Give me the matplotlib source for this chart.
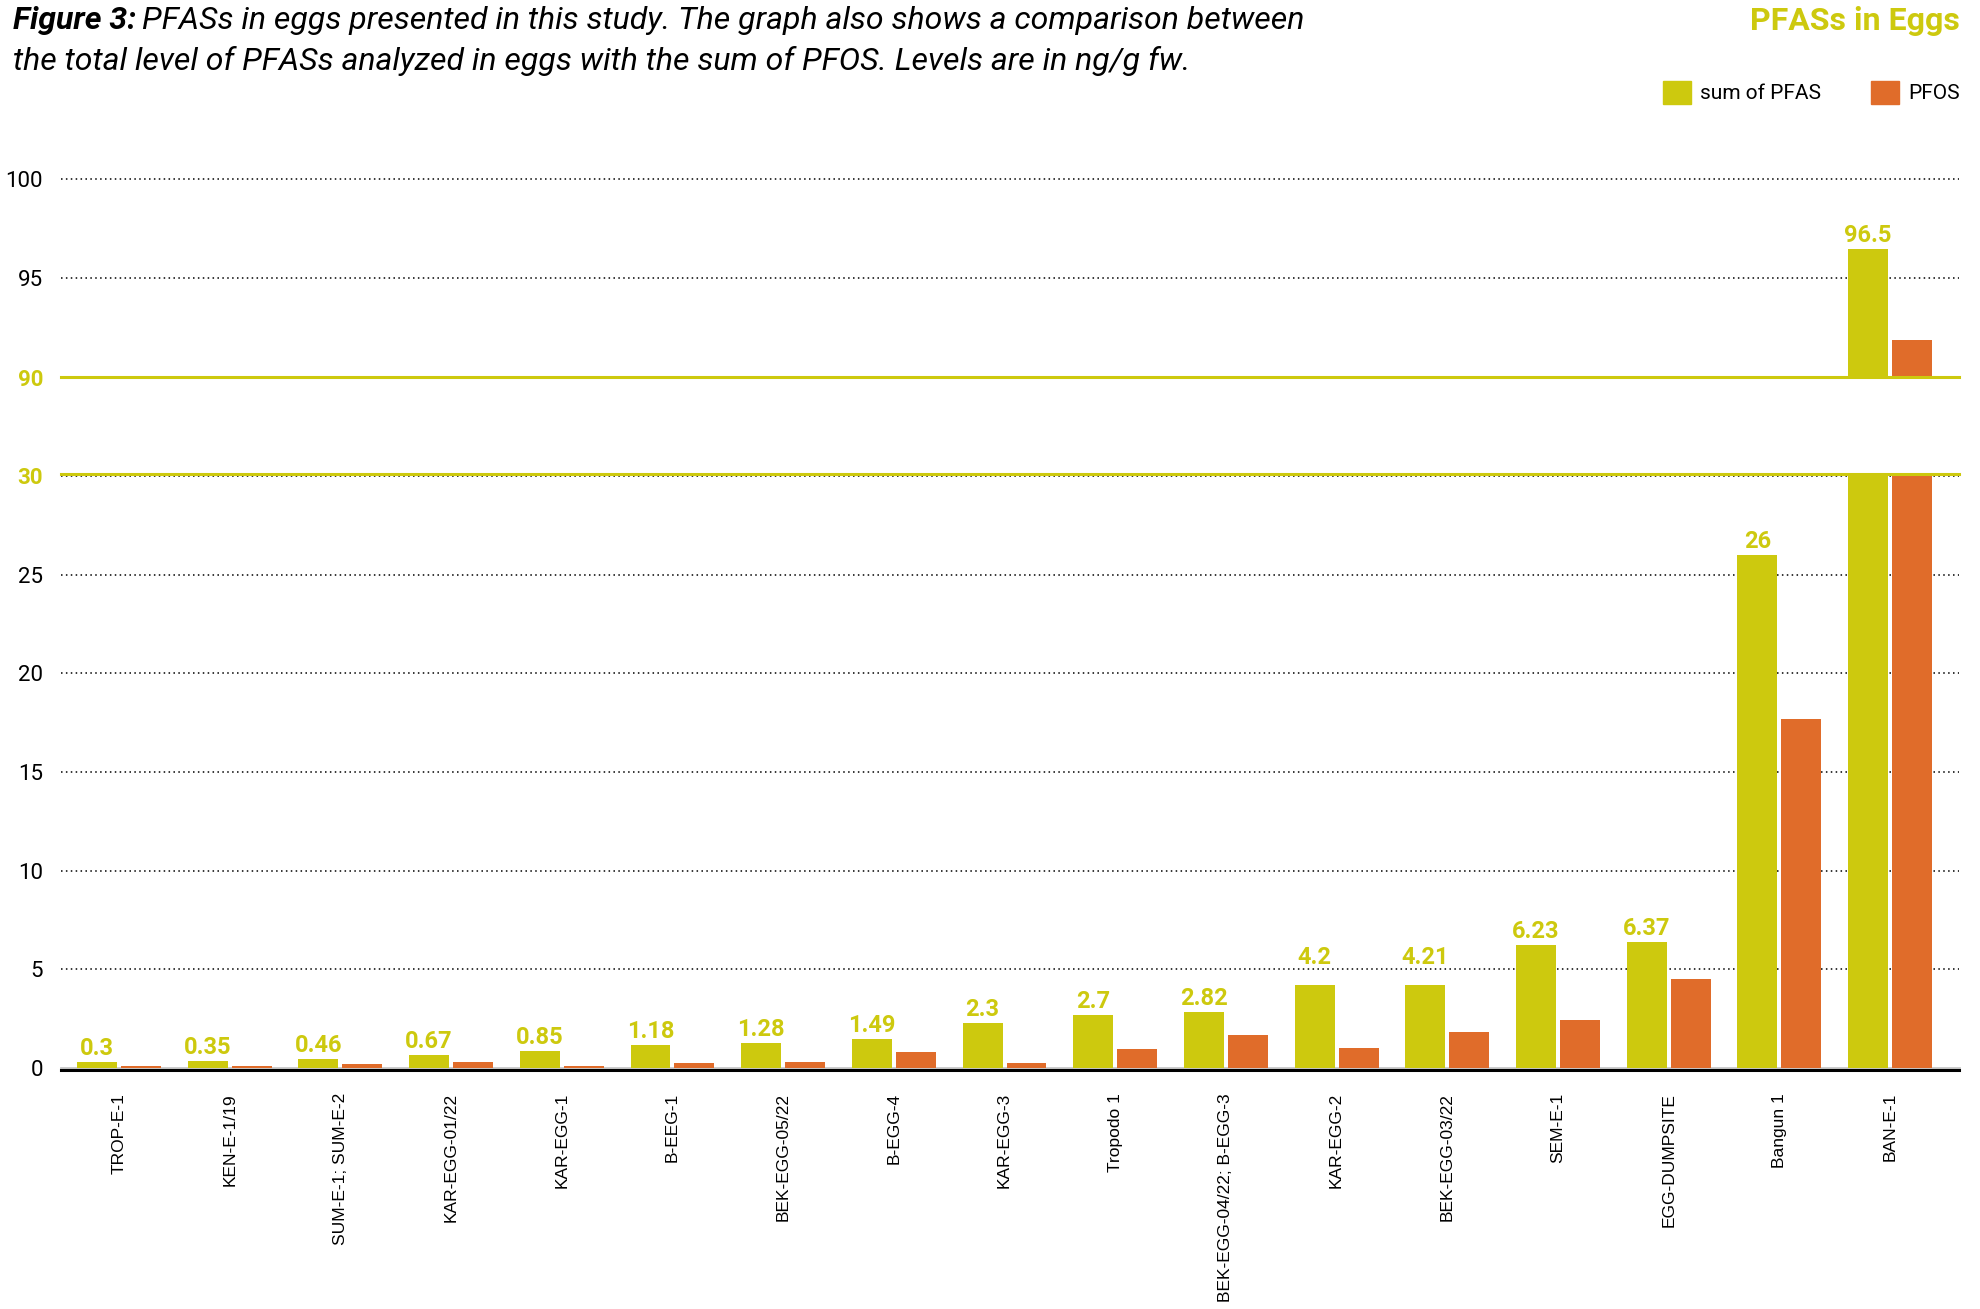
import matplotlib
matplotlib.use('Agg')
import matplotlib.pyplot as plt
import numpy as np
from matplotlib.patches import Patch

categories = ["TROP-E-1", "KEN-E-1/19", "SUM-E-1; SUM-E-2", "KAR-EGG-01/22", "KAR-EGG-1",
              "B-EEG-1", "BEK-EGG-05/22", "B-EGG-4", "KAR-EGG-3", "Tropodo 1",
              "BEK-EGG-04/22; B-EGG-3", "KAR-EGG-2", "BEK-EGG-03/22", "SEM-E-1",
              "EGG-DUMPSITE", "Bangun 1", "BAN-E-1"]
sum_pfas = [0.3, 0.35, 0.46, 0.67, 0.85, 1.18, 1.28, 1.49, 2.3, 2.7, 2.82, 4.2, 4.21,
            6.23, 6.37, 26, 96.5]
pfos = [0.12, 0.12, 0.18, 0.29, 0.12, 0.24, 0.29, 0.8, 0.24, 0.96, 1.68, 1.01, 1.83,
        2.45, 4.5, 17.7, 91.9]
low_ticks = [0, 5, 10, 15, 20, 25, 30]
high_ticks = [90, 95, 100]
series_names = ["sum of PFAS", "PFOS"]

GREEN = '#CDC90E'
ORANGE = '#E06C2A'

fig = plt.figure(figsize=(19.81, 13.09), dpi=100)
L, R = 0.0308, 0.9889
ax_lo = fig.add_axes([L, 0.1841, R - L, 0.4523])
ax_hi = fig.add_axes([L, 0.7119, R - L, 0.1510])

x = np.arange(len(categories))
w = 0.361
gap = 0.036
off = (w + gap) / 2

for ax in (ax_lo, ax_hi):
    ax.bar(x - off, sum_pfas, w, color=GREEN, zorder=3)
    ax.bar(x + off, pfos, w, color=ORANGE, zorder=3)
    ax.set_xlim(-0.524, 16.623)
    for s in ax.spines.values():
        s.set_visible(False)
    ax.tick_params(length=0, pad=13)

ax_lo.set_ylim(0, 30)
ax_hi.set_ylim(90, 100)

dot = (0, (1, 2.2))
for t in low_ticks[1:]:
    ax_lo.axhline(t, color='black', lw=1.1, ls=dot, zorder=1)
ax_lo.axhline(30.12, color=GREEN, lw=2.2, zorder=2, clip_on=False)
ax_lo.axhline(0, color='#C8C8C8', lw=2.0, zorder=2, clip_on=False)
ax_lo.axhline(-0.1, color='black', lw=2.2, zorder=5, clip_on=False)
for t in high_ticks[1:]:
    ax_hi.axhline(t, color='black', lw=1.1, ls=dot, zorder=1, clip_on=False)
ax_hi.axhline(90, color=GREEN, lw=2.2, zorder=4, clip_on=False)

ax_lo.set_yticks(low_ticks)
ax_lo.set_yticklabels([str(t) for t in low_ticks], fontfamily='Roboto', fontsize=16)
ax_hi.set_yticks(high_ticks)
ax_hi.set_yticklabels([str(t) for t in high_ticks], fontfamily='Roboto', fontsize=16)
for lab in (ax_lo.get_yticklabels()[-1], ax_hi.get_yticklabels()[0]):
    lab.set_color(GREEN)
    lab.set_fontweight('bold')

ax_hi.set_xticks([])
ax_lo.set_xticks(x)
ax_lo.set_xticklabels(categories, rotation=90, fontfamily='Liberation Sans', fontsize=12.5,
                      va='top', ha='center')
ax_lo.tick_params(axis='x', pad=18)

# label offsets in points (4.2 / 4.21 sit a bit higher in the original)
label_raise = {11: 10, 12: 10}
for i, (xi, v) in enumerate(zip(x, sum_pfas)):
    ax = ax_hi if v > 90 else ax_lo
    ax.annotate(f'{v:g}', (xi - off, v), xytext=(0, 5 + label_raise.get(i, 0)),
                textcoords='offset points',
                ha='center', va='baseline', color=GREEN, fontfamily='Roboto',
                fontweight='bold', fontsize=17, zorder=6, annotation_clip=False)

# Titles
TS = 23
t1 = fig.text(0.0066, 0.9955, 'Figure 3:', fontfamily='Roboto', fontstyle='italic',
              fontweight='bold', fontsize=TS, va='top', ha='left')
fig.canvas.draw()
bb = t1.get_window_extent()
fig.text(bb.x1 / fig.bbox.width + 0.003, 0.9955,
         'PFASs in eggs presented in this study. The graph also shows a comparison between',
         fontfamily='Roboto', fontstyle='italic', fontsize=TS, va='top', ha='left')
fig.text(0.0066, 0.9955 - 0.031,
         'the total level of PFASs analyzed in eggs with the sum of PFOS. Levels are in ng/g fw.',
         fontfamily='Roboto', fontstyle='italic', fontsize=TS, va='top', ha='left')
fig.text(0.9894, 0.9955, 'PFASs in Eggs', fontfamily='Roboto', fontweight='bold',
         fontsize=23, color=GREEN, va='top', ha='right')

handles = [Patch(color=GREEN), Patch(color=ORANGE)]
fig.legend(handles, series_names, loc='center right', bbox_to_anchor=(0.9895, 0.9295),
           ncol=2, frameon=False, prop={'family': 'Roboto', 'size': 15},
           handlelength=1.35, handleheight=1.35, handletextpad=0.45, columnspacing=2.4,
           borderaxespad=0, borderpad=0)

fig.savefig('out.png', dpi=100)
